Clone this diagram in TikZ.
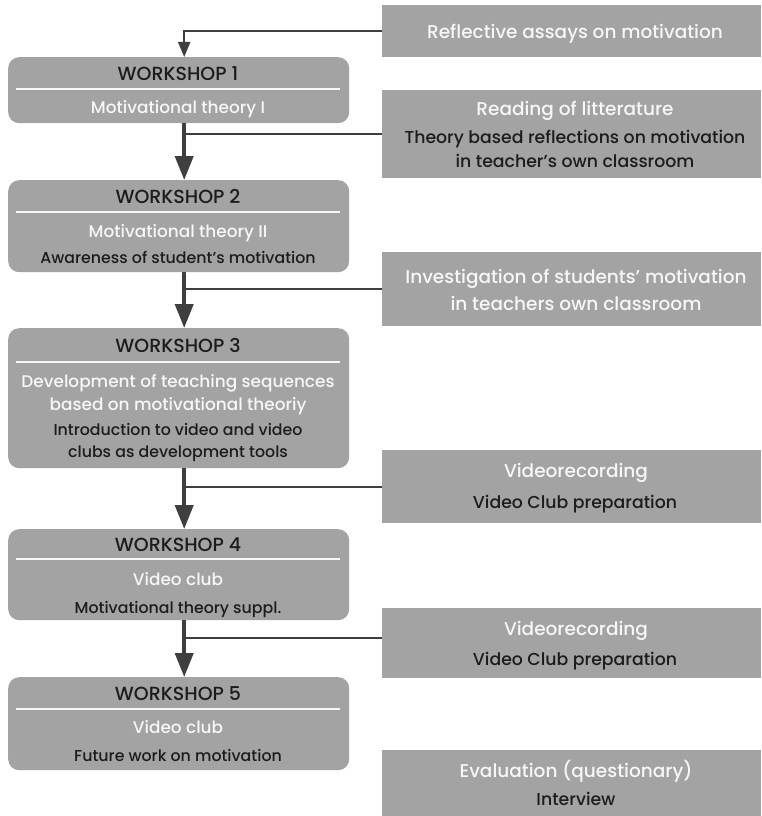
\documentclass[tikz,border=0pt]{standalone}
\usepackage{fontspec}
\setmainfont{Poppins}[UprightFont={* Medium}]
\usetikzlibrary{arrows.meta}
\definecolor{boxgray}{HTML}{A3A3A3}
\definecolor{linegray}{HTML}{3F3F3F}
\definecolor{darktext}{HTML}{1C1C1C}
\definecolor{lighttext}{HTML}{F7F7F7}
\begin{document}
\begin{tikzpicture}[x=1pt,y=-1pt,
  wsbox/.style={fill=boxgray, rounded corners=11pt, draw=none, anchor=north west, inner sep=0pt, minimum width=341pt},
  actbox/.style={fill=boxgray, draw=none, anchor=north west, inner sep=0pt, minimum width=379pt},
  txt/.style={anchor=base, inner sep=0pt},
  rlt/.style={txt, text=lighttext, font=\fontsize{18.5}{21}\selectfont},
  rdt/.style={txt, text=darktext, font=\fontsize{17.3}{20}\selectfont},
  llt/.style={txt, text=lighttext, font=\fontsize{16.9}{20}\selectfont},
  ldt/.style={txt, text=darktext, font=\fontsize{15.8}{19}\selectfont},
  hd/.style={txt, text=darktext, font=\fontsize{19}{22}\selectfont},
  divider/.style={draw=lighttext, line width=1.3pt},
  bigarrow/.style={draw=linegray, line width=4pt, -{Triangle[width=18pt,length=24pt]}},
  thinarrow/.style={draw=linegray, line width=2pt, -{Triangle[width=12pt,length=15pt]}},
  branch/.style={draw=linegray, line width=2pt}
]
\useasboundingbox[fill=white] (0,0) rectangle (761,816);

% workshop boxes
\node[wsbox, minimum height=66pt] (ws1) at (8,57) {};
\node[wsbox, minimum height=92pt] (ws2) at (8,180) {};
\node[wsbox, minimum height=140pt] (ws3) at (8,328) {};
\node[wsbox, minimum height=91pt] (ws4) at (8,529) {};
\node[wsbox, minimum height=93pt] (ws5) at (8,677) {};

% activity boxes
\node[actbox, minimum height=52pt] (r1) at (382,5) {};
\node[actbox, minimum height=88pt] (r2) at (382,90) {};
\node[actbox, minimum height=74pt] (r3) at (382,252) {};
\node[actbox, minimum height=73pt] (r4) at (382,450) {};
\node[actbox, minimum height=70pt] (r5) at (382,608) {};
\node[actbox, minimum height=70pt] (r6) at (382,750) {};

% dividers
\foreach \y in {89,212,362,559,709} \draw[divider] (16,\y) -- (340,\y);

% texts, workshops
\node[hd] (t1a) at (178,80) {WORKSHOP 1};
\node[llt] (t1b) at (178,113) {Motivational theory I};
\node[hd] (t2a) at (178,203) {WORKSHOP 2};
\node[llt] (t2b) at (178,237) {Motivational theory II};
\node[ldt] (t2c) at (178,263) {Awareness of student's motivation};
\node[hd] (t3a) at (178,352) {WORKSHOP 3};
\node[llt] (t3b) at (178,387) {Development of teaching sequences};
\node[llt] (t3c) at (178,410) {based on motivational theoriy};
\node[ldt] (t3d) at (178,435) {Introduction to video and video};
\node[ldt] (t3e) at (178,457) {clubs as development tools};
\node[hd] (t4a) at (178,551) {WORKSHOP 4};
\node[llt] (t4b) at (178,585) {Video club};
\node[ldt] (t4c) at (178,613) {Motivational theory suppl.};
\node[hd] (t5a) at (178,700) {WORKSHOP 5};
\node[llt] (t5b) at (178,733) {Video club};
\node[ldt] (t5c) at (178,761) {Future work on motivation};

% texts, activities
\node[rlt] (s1a) at (575,38) {Reflective assays on motivation};
\node[rlt] (s2a) at (575,115) {Reading of litterature};
\node[rdt] (s2b) at (575,143) {Theory based reflections on motivation};
\node[rdt] (s2c) at (575,167) {in teacher's own classroom};
\node[rlt] (s3a) at (576,283) {Investigation of students' motivation};
\node[rlt] (s3b) at (576,310) {in teachers own classroom};
\node[rlt] (s4a) at (576,477) {Videorecording};
\node[rdt] (s4b) at (575,508) {Video Club preparation};
\node[rlt] (s5a) at (576,635) {Videorecording};
\node[rdt] (s5b) at (575,665) {Video Club preparation};
\node[rlt] (s6a) at (576,777) {Evaluation (questionary)};
\node[rdt] (s6b) at (576,805) {Interview};

% connectors
\coordinate (ax) at (184,0);
\draw[thinarrow] (r1.west) -| ([xshift=5.5pt]ws1.north);
\draw[bigarrow] ([xshift=5.5pt]ws1.south) -- ([xshift=5.5pt]ws2.north);
\draw[bigarrow] ([xshift=5.5pt]ws2.south) -- ([xshift=5.5pt]ws3.north);
\draw[bigarrow] ([xshift=5.5pt]ws3.south) -- ([xshift=5.5pt]ws4.north);
\draw[bigarrow] ([xshift=5.5pt]ws4.south) -- ([xshift=5.5pt]ws5.north);
\draw[branch] (r2.west) -- (r2.west -| ax);
\draw[branch] (r3.west) -- (r3.west -| ax);
\draw[branch] (r4.west) -- (r4.west -| ax);
\draw[branch] ([yshift=5pt]r5.west) -- ([yshift=5pt]r5.west -| ax);
\end{tikzpicture}
\end{document}
